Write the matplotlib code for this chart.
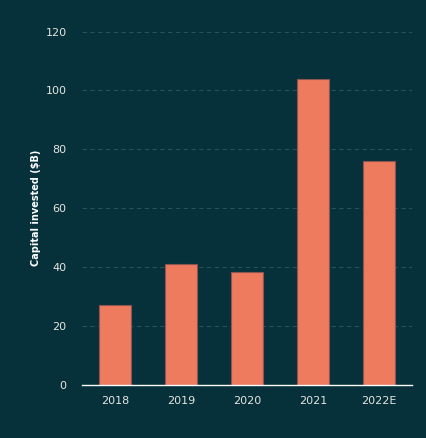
import matplotlib
matplotlib.use("Agg")
import matplotlib.pyplot as plt

years = ["2018", "2019", "2020", "2021", "2022E"]
capital = [27, 41, 38.5, 104, 76]

bg = "#06303a"
bar_color = "#ee7b5e"
text_color = "#e6e6de"

fig = plt.figure(figsize=(4.27, 4.38), dpi=100, facecolor=bg)
ax = fig.add_axes([0.192, 0.121, 0.773, 0.807])
ax.set_facecolor(bg)

ax.bar(range(len(years)), capital, width=0.48, color=bar_color,
       edgecolor="#8c5552", linewidth=0.8, zorder=3)

ax.set_xlim(-0.5, len(years) - 0.5)
ax.set_ylim(0, 120)
ax.set_yticks(range(0, 121, 20))
ax.set_xticks(range(len(years)))
ax.set_xticklabels(years)

ax.grid(axis="y", color="#245359", linestyle=(0, (4, 3)), linewidth=0.8, zorder=0)
for side in ["top", "right", "left"]:
    ax.spines[side].set_visible(False)
ax.spines["bottom"].set_color("white")
ax.spines["bottom"].set_linewidth(1.0)
ax.spines["bottom"].set_zorder(4)

ax.tick_params(axis="both", length=0, colors=text_color, labelsize=8)
ax.tick_params(axis="y", pad=11)
ax.tick_params(axis="x", pad=8)

ax.set_ylabel("Capital invested ($B)", color="white", fontsize=7,
              fontweight="bold", labelpad=3)

fig.savefig("out.png", dpi=100, facecolor=bg)
